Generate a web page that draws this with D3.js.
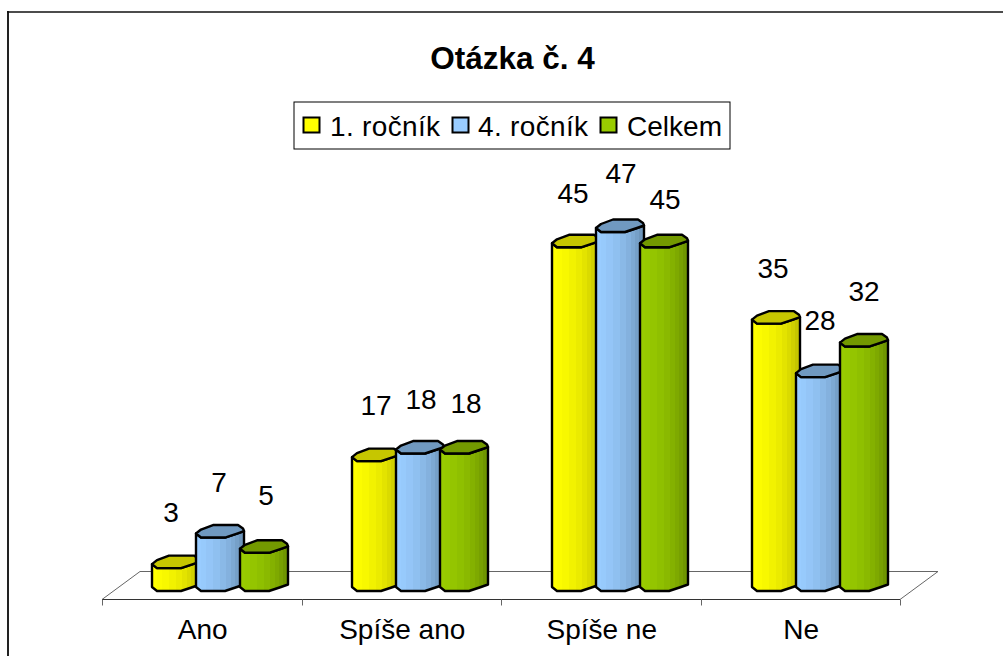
<!DOCTYPE html>
<html><head><meta charset="utf-8">
<script src="https://cdn.jsdelivr.net/npm/d3@7"></script>
<style>html,body{margin:0;padding:0;background:#fff}svg{display:block}text{font-family:"Liberation Sans",Arial,sans-serif;fill:#000}</style>
</head><body><svg id="c" width="1003" height="656"></svg>
<script>
const categories = ["Ano","Spíše ano","Spíše ne","Ne"];
const seriesNames = ["1. ročník","4. ročník","Celkem"];
const first = [3,17,45,35];
const fourth = [7,18,47,28];
const total = [5,18,45,32];
const seriesValues = [first,fourth,total];
const chartTitle = "Otázka č. 4";
const sideStops = [["#ffff00","#c6c600"],["#99ccff","#6e96bc"],["#99cc00","#6f9600"]];
const capColours = ["#c6c600","#7099c0","#739900"];
const swatchColours = ["#ffff00","#99ccff","#99cc00"];
const labelDx = [[-5,0,-3,-3],[-1,1,1,0],[2,2,1,0]];
const labelDy = [[-1,-1,1,-1],[-1,0,-4,-2],[-3,4,7,-1]];

const svg = d3.select("#c");
const x = d3.scaleBand().domain(categories).range([102,900]);
const xBars = d3.scaleBand().domain(categories).range([102,902]);
const xs = d3.scaleBand().domain(d3.range(3)).range([50,182]).padding(0);
const y = d3.scaleLinear().domain([0,47]).range([591,232]);
const depthX = 38, depthY = 28;

svg.append("line").attr("x1",8).attr("x2",8).attr("y1",11).attr("y2",656).attr("stroke","#222").attr("stroke-width",2);
svg.append("line").attr("x1",7).attr("x2",1003).attr("y1",12).attr("y2",12).attr("stroke","#111").attr("stroke-width",1.5);

svg.append("text").attr("x",512.5).attr("y",69).attr("text-anchor","middle").attr("font-size",31.5).attr("font-weight","bold").text(chartTitle);

const fy = 599.5;
svg.append("path").attr("d",`M102,${fy} L${102+depthX},${fy-depthY} L${900+depthX},${fy-depthY} L900,${fy} Z`).attr("fill","#fff").attr("stroke","#666").attr("stroke-width",1);
svg.append("line").attr("x1",102).attr("x2",900).attr("y1",fy).attr("y2",fy).attr("stroke","#333");
const ticks = categories.map(c=>x(c)).concat([900]);
svg.selectAll("line.t").data(ticks).join("line").attr("class","t")
  .attr("x1",d=>Math.round(d)+.5).attr("x2",d=>Math.round(d)+.5).attr("y1",fy).attr("y2",fy+6).attr("stroke","#666");
svg.selectAll("text.c").data(categories).join("text").attr("class","c")
  .attr("x",d=>x(d)+x.bandwidth()/2+1).attr("y",639).attr("text-anchor","middle").attr("font-size",28).text(d=>d);

const defs = svg.append("defs");
const facets = [0,.1,.2,.35,.5,.62,.72,.82,.9,1];
sideStops.forEach((s,i)=>{
  const g = defs.append("linearGradient").attr("id","g"+i);
  const c = d3.interpolateRgb(s[0],s[1]);
  for(let k=0;k<facets.length-1;k++){
    const col = c(Math.pow(k/(facets.length-2),1.5));
    g.append("stop").attr("offset",facets[k]).attr("stop-color",col);
    g.append("stop").attr("offset",facets[k+1]).attr("stop-color",col);
  }
});

const front = [[0,-4],[5,0],[29,0],[41,-4],[48,-6.5]];
const back = [[47,-9],[42,-12.5],[17,-12.5],[5,-8]];
const line = d3.line();
seriesValues.forEach((vals,si)=>{
  categories.forEach((cat,ci)=>{
    const x0 = xBars(cat)+xs(si), yt = y(vals[ci]), yb = y(0);
    const g = svg.append("g");
    const body = front.map(p=>[x0+p[0],yb+p[1]]).reverse()
      .concat(front.map(p=>[x0+p[0],yt+p[1]]));
    g.append("path").attr("d",line(body)+"Z").attr("fill",`url(#g${si})`).attr("stroke","#000").attr("stroke-width",2.4).attr("stroke-linejoin","round");
    const cap = front.concat(back).map(p=>[x0+p[0],yt+p[1]]);
    g.append("path").attr("d",line(cap)+"Z").attr("fill",capColours[si]).attr("stroke","#000").attr("stroke-width",2.4).attr("stroke-linejoin","round");
    svg.append("text").datum(vals[ci]).attr("class","dl")
      .attr("x",x0+24+labelDx[si][ci]).attr("y",yt-45+labelDy[si][ci]).attr("text-anchor","middle").attr("font-size",28).text(d=>d);
  });
});
svg.selectAll("text.dl").raise();

const lg = svg.append("g");
lg.append("rect").attr("x",294).attr("y",102).attr("width",436).attr("height",47).attr("fill","#fff").attr("stroke","#000");
const lx = [303,452,600];
seriesNames.forEach((n,i)=>{
  lg.append("rect").attr("x",lx[i]+.5).attr("y",117.5).attr("width",16).attr("height",15).attr("fill",swatchColours[i]).attr("stroke","#000").attr("stroke-width",2);
  lg.append("text").attr("x",lx[i]+(i==2?27:i==1?26:27)).attr("y",136).attr("font-size",28).attr("textLength",i==2?95:110).text(n);
});
</script></body></html>
